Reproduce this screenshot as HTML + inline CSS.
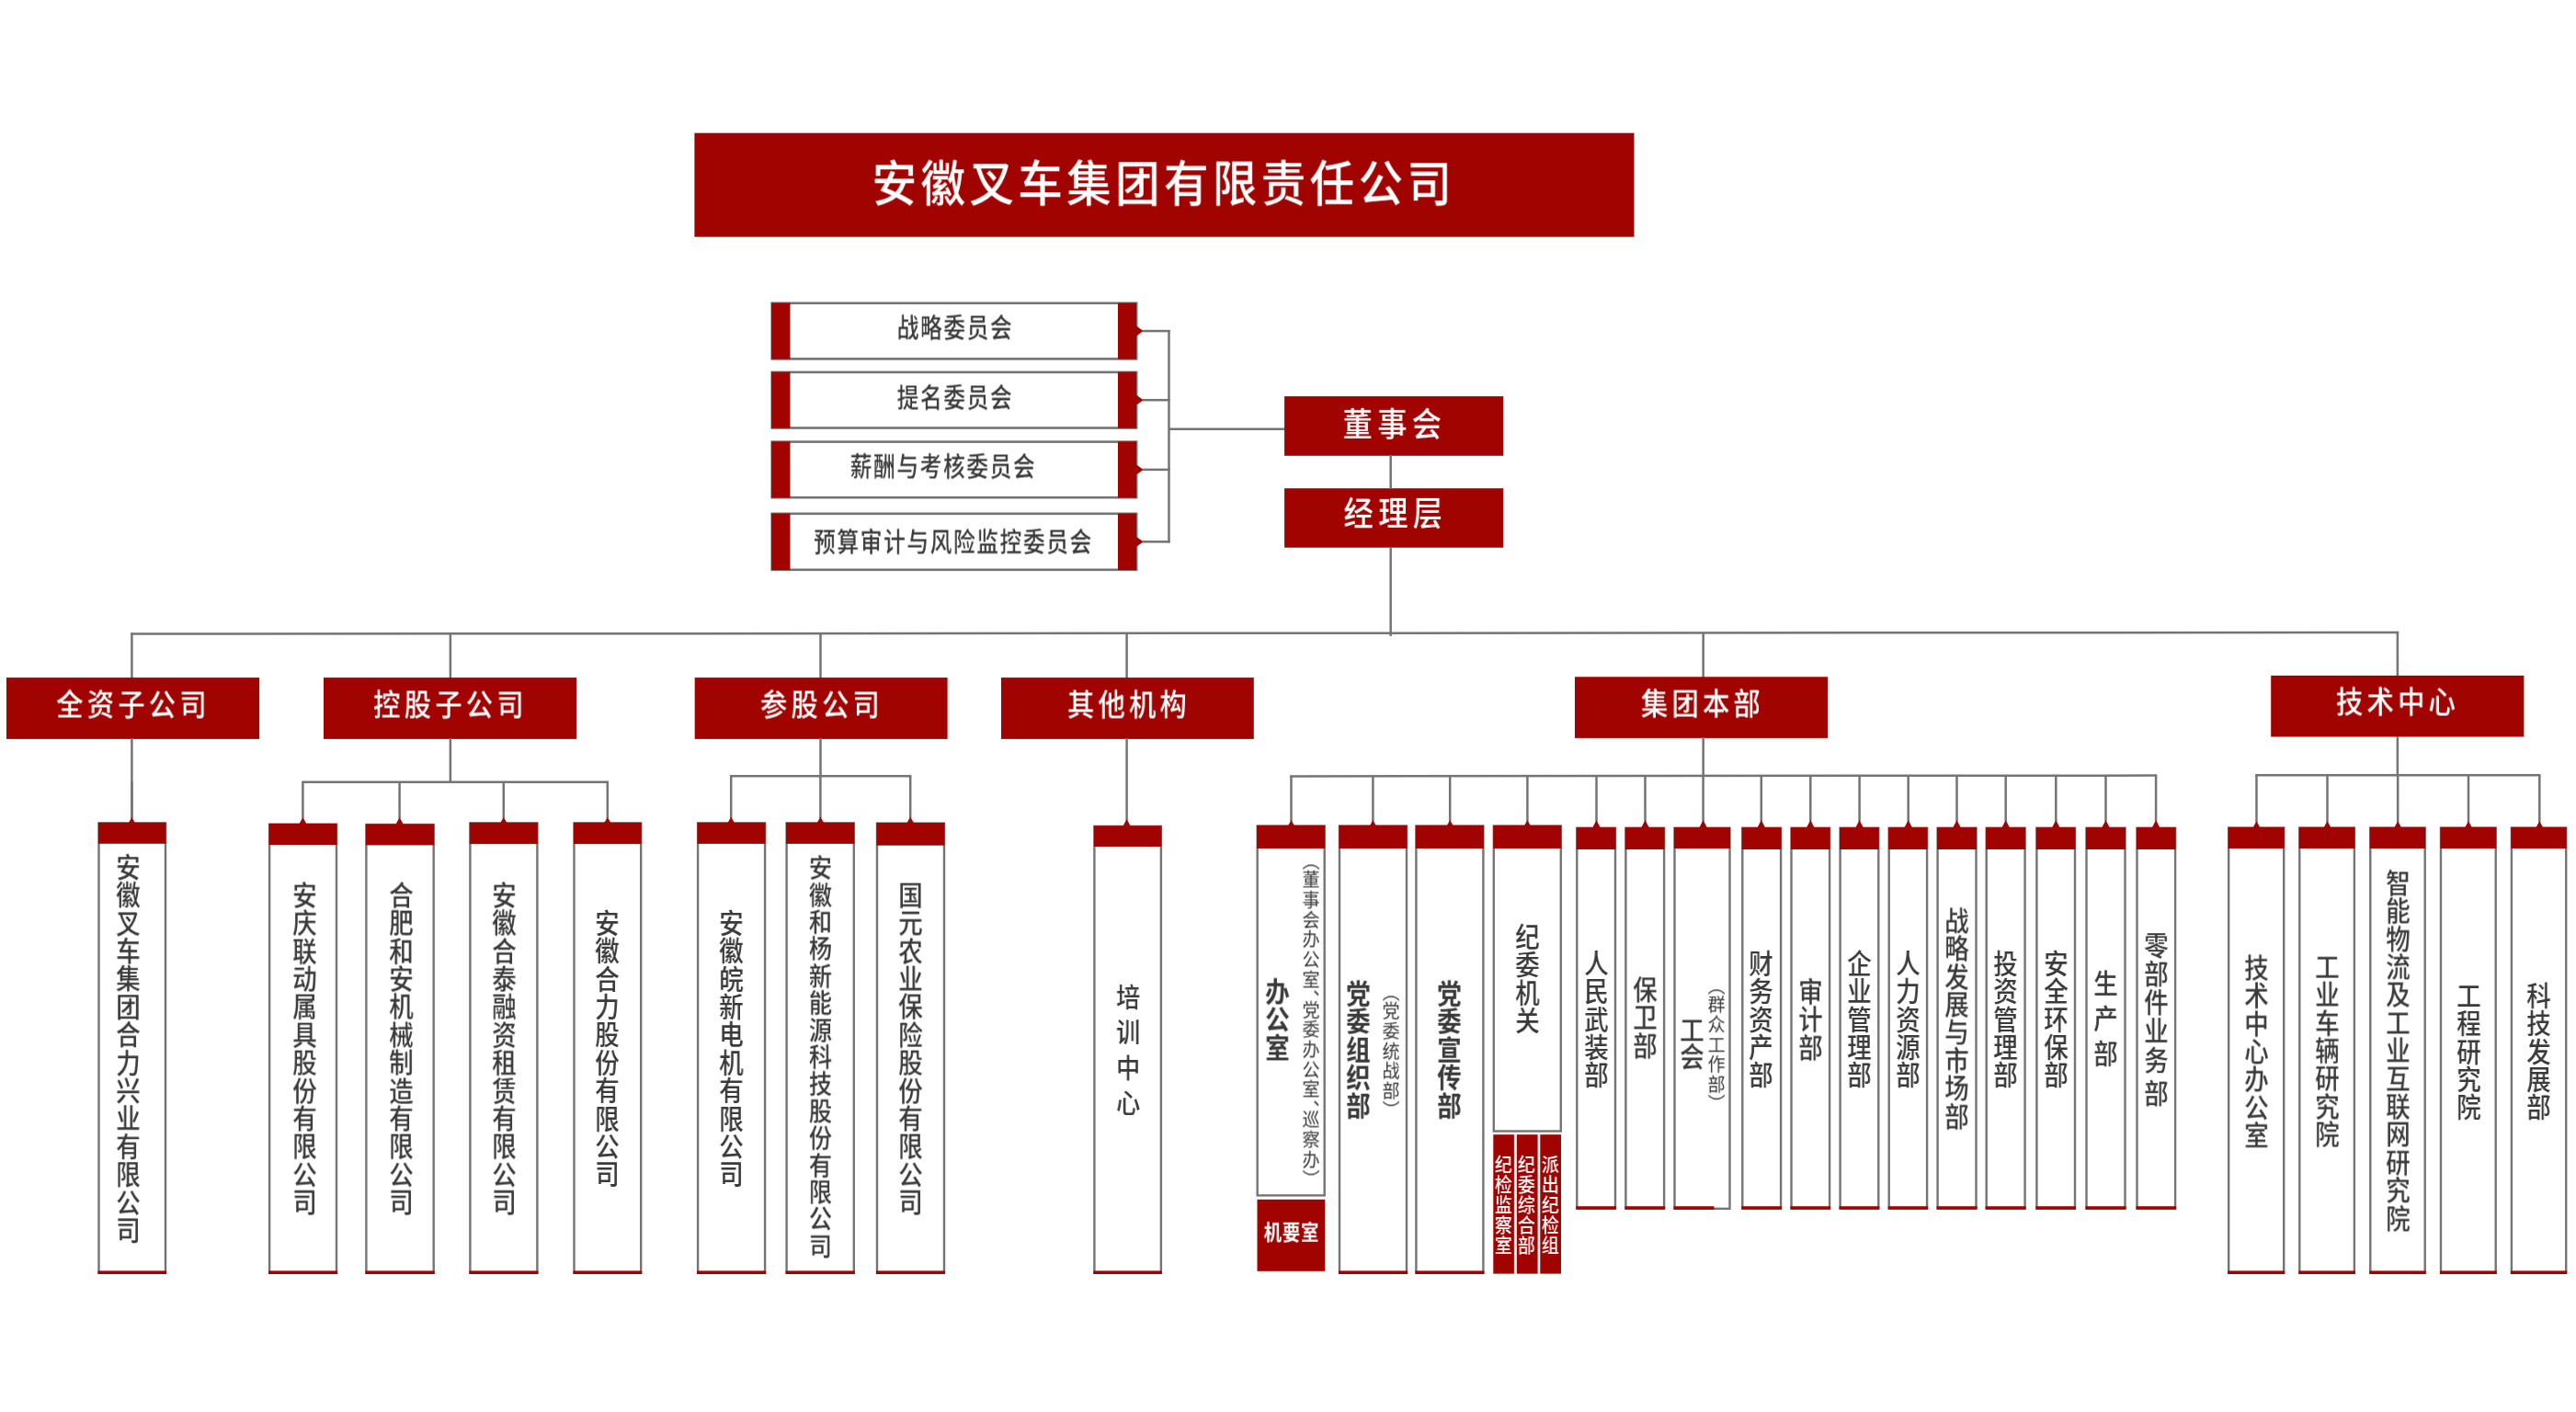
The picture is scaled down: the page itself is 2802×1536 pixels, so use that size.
<!DOCTYPE html>
<html lang="zh-CN">
<head>
<meta charset="utf-8">
<title>安徽叉车集团有限责任公司 组织架构</title>
<style>
html,body{margin:0;padding:0;background:#fff;}
body{width:2802px;height:1536px;position:relative;overflow:hidden;font-family:"Liberation Sans", "Noto Sans CJK SC", sans-serif;}
#g{position:absolute;left:0;top:0;width:2802px;height:1536px;}
.t{will-change:transform;position:absolute;white-space:nowrap;line-height:1;margin:0;padding:0;}
.v{writing-mode:vertical-rl;text-orientation:mixed;}
</style>
</head>
<body>
<svg id="g" width="2802" height="1536" viewBox="0 0 2802 1536">
<rect x="755.4" y="144.7" width="1022.1" height="113.0" fill="#a10300"/>
<rect x="839.7" y="329.8" width="396.5" height="60.6" fill="#fff" stroke="#747474" stroke-width="2.6"/>
<rect x="839.1" y="329.5" width="20.4" height="61.2" fill="#a10300"/>
<rect x="1216.0" y="329.5" width="20.0" height="61.2" fill="#a10300"/>
<polygon points="1235.8,354.5 1243.7,360.1 1235.8,365.7" fill="#a10300"/>
<line x1="1243.0" y1="360.1" x2="1272.6" y2="360.1" stroke="#747474" stroke-width="2.5"/>
<rect x="839.7" y="404.9" width="396.5" height="60.6" fill="#fff" stroke="#747474" stroke-width="2.6"/>
<rect x="839.1" y="404.6" width="20.4" height="61.2" fill="#a10300"/>
<rect x="1216.0" y="404.6" width="20.0" height="61.2" fill="#a10300"/>
<polygon points="1235.8,429.6 1243.7,435.2 1235.8,440.8" fill="#a10300"/>
<line x1="1243.0" y1="435.2" x2="1272.6" y2="435.2" stroke="#747474" stroke-width="2.5"/>
<rect x="839.7" y="480.6" width="396.5" height="60.6" fill="#fff" stroke="#747474" stroke-width="2.6"/>
<rect x="839.1" y="480.3" width="20.4" height="61.2" fill="#a10300"/>
<rect x="1216.0" y="480.3" width="20.0" height="61.2" fill="#a10300"/>
<polygon points="1235.8,505.3 1243.7,510.9 1235.8,516.5" fill="#a10300"/>
<line x1="1243.0" y1="510.9" x2="1272.6" y2="510.9" stroke="#747474" stroke-width="2.5"/>
<rect x="839.7" y="558.8" width="396.5" height="61.0" fill="#fff" stroke="#747474" stroke-width="2.6"/>
<rect x="839.1" y="558.5" width="20.4" height="61.6" fill="#a10300"/>
<rect x="1216.0" y="558.5" width="20.0" height="61.6" fill="#a10300"/>
<polygon points="1235.8,583.7 1243.7,589.3 1235.8,594.9" fill="#a10300"/>
<line x1="1243.0" y1="589.3" x2="1272.6" y2="589.3" stroke="#747474" stroke-width="2.5"/>
<line x1="1271.5" y1="359.0" x2="1271.5" y2="590.4" stroke="#747474" stroke-width="2.5"/>
<line x1="1271.5" y1="466.8" x2="1398.0" y2="466.8" stroke="#747474" stroke-width="2.5"/>
<rect x="1397.1" y="431.1" width="238.1" height="64.7" fill="#a10300"/>
<rect x="1397.1" y="531.2" width="238.1" height="64.5" fill="#a10300"/>
<line x1="1512.7" y1="495.0" x2="1512.7" y2="532.0" stroke="#747474" stroke-width="2.5"/>
<line x1="1512.7" y1="595.0" x2="1512.7" y2="692.0" stroke="#747474" stroke-width="2.5"/>
<line x1="142.3" y1="689.6" x2="2609.3" y2="688.0" stroke="#747474" stroke-width="2.5"/>
<line x1="143.4" y1="688.5" x2="143.4" y2="738.1" stroke="#747474" stroke-width="2.5"/>
<rect x="7.0" y="737.1" width="275.1" height="66.8" fill="#a10300"/>
<line x1="489.9" y1="688.5" x2="489.9" y2="738.1" stroke="#747474" stroke-width="2.5"/>
<rect x="352.0" y="737.1" width="275.1" height="66.8" fill="#a10300"/>
<line x1="892.5" y1="688.5" x2="892.5" y2="738.1" stroke="#747474" stroke-width="2.5"/>
<rect x="755.7" y="737.1" width="274.9" height="66.8" fill="#a10300"/>
<line x1="1225.6" y1="688.5" x2="1225.6" y2="738.1" stroke="#747474" stroke-width="2.5"/>
<rect x="1089.0" y="737.1" width="274.8" height="66.8" fill="#a10300"/>
<line x1="1852.7" y1="688.5" x2="1852.7" y2="737.3" stroke="#747474" stroke-width="2.5"/>
<rect x="1713.0" y="736.3" width="275.2" height="66.6" fill="#a10300"/>
<line x1="2607.9" y1="688.5" x2="2607.9" y2="735.9" stroke="#747474" stroke-width="2.5"/>
<rect x="2470.2" y="734.9" width="275.1" height="66.6" fill="#a10300"/>
<line x1="143.4" y1="803.0" x2="143.4" y2="890.0" stroke="#747474" stroke-width="2.5"/>
<line x1="143.4" y1="850.0" x2="143.4" y2="890.6" stroke="#747474" stroke-width="2.5"/>
<rect x="107.5" y="895.4" width="72.5" height="489.1" fill="#fff" stroke="#747474" stroke-width="2.4"/>
<rect x="106.9" y="894.8" width="73.6" height="23.0" fill="#a10300"/>
<polygon points="140.0,895.1 143.4,889.1 146.8,895.1" fill="#a10300"/>
<rect x="106.5" y="1382.4" width="74.5" height="3.6" fill="#a10300"/>
<line x1="489.9" y1="803.0" x2="489.9" y2="850.8" stroke="#747474" stroke-width="2.5"/>
<line x1="328.2" y1="850.8" x2="662.0" y2="850.8" stroke="#747474" stroke-width="2.5"/>
<line x1="329.4" y1="850.8" x2="329.4" y2="890.4" stroke="#747474" stroke-width="2.5"/>
<rect x="293.1" y="896.6" width="72.9" height="487.9" fill="#fff" stroke="#747474" stroke-width="2.4"/>
<rect x="292.5" y="896.0" width="74.0" height="23.1" fill="#a10300"/>
<polygon points="325.5,896.3 329.4,888.9 333.3,896.3" fill="#a10300"/>
<rect x="292.1" y="1382.4" width="74.9" height="3.6" fill="#a10300"/>
<line x1="434.6" y1="850.8" x2="434.6" y2="890.4" stroke="#747474" stroke-width="2.5"/>
<rect x="398.4" y="897.0" width="73.3" height="487.5" fill="#fff" stroke="#747474" stroke-width="2.4"/>
<rect x="397.8" y="896.4" width="74.4" height="23.0" fill="#a10300"/>
<polygon points="430.5,896.7 434.6,888.9 438.7,896.7" fill="#a10300"/>
<rect x="397.4" y="1382.4" width="75.3" height="3.6" fill="#a10300"/>
<line x1="547.8" y1="850.8" x2="547.8" y2="890.4" stroke="#747474" stroke-width="2.5"/>
<rect x="511.4" y="895.4" width="73.0" height="489.1" fill="#fff" stroke="#747474" stroke-width="2.4"/>
<rect x="510.8" y="894.8" width="74.1" height="23.3" fill="#a10300"/>
<polygon points="544.3,895.1 547.8,888.9 551.3,895.1" fill="#a10300"/>
<rect x="510.4" y="1382.4" width="75.0" height="3.6" fill="#a10300"/>
<line x1="660.8" y1="850.8" x2="660.8" y2="890.4" stroke="#747474" stroke-width="2.5"/>
<rect x="624.5" y="895.4" width="72.7" height="489.1" fill="#fff" stroke="#747474" stroke-width="2.4"/>
<rect x="623.9" y="894.8" width="73.8" height="23.3" fill="#a10300"/>
<polygon points="657.3,895.1 660.8,888.9 664.3,895.1" fill="#a10300"/>
<rect x="623.5" y="1382.4" width="74.7" height="3.6" fill="#a10300"/>
<line x1="892.5" y1="803.0" x2="892.5" y2="844.2" stroke="#747474" stroke-width="2.5"/>
<line x1="794.0" y1="844.2" x2="991.3" y2="844.2" stroke="#747474" stroke-width="2.5"/>
<line x1="795.2" y1="844.2" x2="795.2" y2="890.1" stroke="#747474" stroke-width="2.5"/>
<rect x="759.1" y="895.4" width="73.0" height="489.1" fill="#fff" stroke="#747474" stroke-width="2.4"/>
<rect x="758.5" y="894.8" width="74.1" height="23.1" fill="#a10300"/>
<polygon points="791.6,895.1 795.2,888.6 798.8,895.1" fill="#a10300"/>
<rect x="758.1" y="1382.4" width="75.0" height="3.6" fill="#a10300"/>
<line x1="892.4" y1="844.2" x2="892.4" y2="890.1" stroke="#747474" stroke-width="2.5"/>
<rect x="855.6" y="895.4" width="73.2" height="489.1" fill="#fff" stroke="#747474" stroke-width="2.4"/>
<rect x="855.0" y="894.8" width="74.3" height="23.1" fill="#a10300"/>
<polygon points="888.8,895.1 892.4,888.6 896.0,895.1" fill="#a10300"/>
<rect x="854.6" y="1382.4" width="75.2" height="3.6" fill="#a10300"/>
<line x1="990.2" y1="844.2" x2="990.2" y2="890.1" stroke="#747474" stroke-width="2.5"/>
<rect x="954.0" y="895.6" width="73.0" height="488.9" fill="#fff" stroke="#747474" stroke-width="2.4"/>
<rect x="953.4" y="895.0" width="74.1" height="24.7" fill="#a10300"/>
<polygon points="986.5,895.3 990.2,888.6 993.9,895.3" fill="#a10300"/>
<rect x="953.0" y="1382.4" width="75.0" height="3.6" fill="#a10300"/>
<line x1="1225.6" y1="803.0" x2="1225.6" y2="892.5" stroke="#747474" stroke-width="2.5"/>
<rect x="1190.4" y="898.9" width="72.5" height="485.6" fill="#fff" stroke="#747474" stroke-width="2.4"/>
<rect x="1189.8" y="898.3" width="73.6" height="22.7" fill="#a10300"/>
<polygon points="1221.6,898.6 1225.6,891.0 1229.6,898.6" fill="#a10300"/>
<rect x="1189.4" y="1382.4" width="74.5" height="3.6" fill="#a10300"/>
<line x1="1852.7" y1="802.0" x2="1852.7" y2="844.2" stroke="#747474" stroke-width="2.5"/>
<line x1="1403.0" y1="844.4" x2="2346.3" y2="843.6" stroke="#747474" stroke-width="2.5"/>
<line x1="1404.5" y1="844.2" x2="1404.5" y2="893.6" stroke="#747474" stroke-width="2.5"/>
<rect x="1367.7" y="898.5" width="73.0" height="401.9" fill="#fff" stroke="#747474" stroke-width="2.4"/>
<rect x="1367.1" y="897.9" width="74.1" height="25.1" fill="#a10300"/>
<polygon points="1401.1,898.2 1404.5,892.1 1407.9,898.2" fill="#a10300"/>
<line x1="1493.4" y1="844.2" x2="1493.4" y2="893.6" stroke="#747474" stroke-width="2.5"/>
<rect x="1457.0" y="898.5" width="73.0" height="486.0" fill="#fff" stroke="#747474" stroke-width="2.4"/>
<rect x="1456.4" y="897.9" width="74.1" height="25.1" fill="#a10300"/>
<polygon points="1490.0,898.2 1493.4,892.1 1496.8,898.2" fill="#a10300"/>
<rect x="1456.0" y="1382.4" width="75.0" height="3.6" fill="#a10300"/>
<line x1="1577.2" y1="844.2" x2="1577.2" y2="893.6" stroke="#747474" stroke-width="2.5"/>
<rect x="1540.4" y="898.5" width="73.0" height="486.0" fill="#fff" stroke="#747474" stroke-width="2.4"/>
<rect x="1539.8" y="897.9" width="74.1" height="25.1" fill="#a10300"/>
<polygon points="1573.8,898.2 1577.2,892.1 1580.6,898.2" fill="#a10300"/>
<rect x="1539.4" y="1382.4" width="75.0" height="3.6" fill="#a10300"/>
<line x1="1661.4" y1="844.2" x2="1661.4" y2="893.6" stroke="#747474" stroke-width="2.5"/>
<rect x="1624.8" y="898.5" width="73.0" height="332.0" fill="#fff" stroke="#747474" stroke-width="2.4"/>
<rect x="1624.2" y="897.9" width="74.1" height="25.1" fill="#a10300"/>
<polygon points="1658.0,898.2 1661.4,892.1 1664.8,898.2" fill="#a10300"/>
<line x1="1736.5" y1="844.0" x2="1736.5" y2="893.6" stroke="#747474" stroke-width="2.5"/>
<rect x="1715.3" y="900.7" width="41.7" height="413.6" fill="#fff" stroke="#747474" stroke-width="2.4"/>
<rect x="1714.7" y="900.1" width="42.8" height="23.9" fill="#a10300"/>
<polygon points="1732.2,900.4 1736.5,892.1 1740.8,900.4" fill="#a10300"/>
<rect x="1714.3" y="1312.2" width="43.7" height="3.6" fill="#a10300"/>
<line x1="1789.5" y1="844.0" x2="1789.5" y2="893.6" stroke="#747474" stroke-width="2.5"/>
<rect x="1768.4" y="900.7" width="41.7" height="413.6" fill="#fff" stroke="#747474" stroke-width="2.4"/>
<rect x="1767.8" y="900.1" width="42.8" height="23.9" fill="#a10300"/>
<polygon points="1785.2,900.4 1789.5,892.1 1793.8,900.4" fill="#a10300"/>
<rect x="1767.4" y="1312.2" width="43.7" height="3.6" fill="#a10300"/>
<line x1="1852.6" y1="844.0" x2="1852.6" y2="893.6" stroke="#747474" stroke-width="2.5"/>
<rect x="1821.5" y="900.7" width="60.0" height="414.1" fill="#fff" stroke="#747474" stroke-width="2.4"/>
<rect x="1820.9" y="900.1" width="61.1" height="22.9" fill="#a10300"/>
<polygon points="1848.3,900.4 1852.6,892.1 1856.9,900.4" fill="#a10300"/>
<rect x="1820.5" y="1312.2" width="43.9" height="3.6" fill="#a10300"/>
<line x1="1915.8" y1="844.0" x2="1915.8" y2="893.6" stroke="#747474" stroke-width="2.5"/>
<rect x="1895.3" y="900.7" width="41.8" height="413.6" fill="#fff" stroke="#747474" stroke-width="2.4"/>
<rect x="1894.7" y="900.1" width="42.9" height="23.9" fill="#a10300"/>
<polygon points="1911.5,900.4 1915.8,892.1 1920.1,900.4" fill="#a10300"/>
<rect x="1894.3" y="1312.2" width="43.8" height="3.6" fill="#a10300"/>
<line x1="1969.3" y1="844.0" x2="1969.3" y2="893.6" stroke="#747474" stroke-width="2.5"/>
<rect x="1948.5" y="900.7" width="41.6" height="413.6" fill="#fff" stroke="#747474" stroke-width="2.4"/>
<rect x="1947.9" y="900.1" width="42.7" height="23.9" fill="#a10300"/>
<polygon points="1965.0,900.4 1969.3,892.1 1973.6,900.4" fill="#a10300"/>
<rect x="1947.5" y="1312.2" width="43.6" height="3.6" fill="#a10300"/>
<line x1="2022.6" y1="844.0" x2="2022.6" y2="893.6" stroke="#747474" stroke-width="2.5"/>
<rect x="2001.6" y="900.7" width="41.7" height="413.6" fill="#fff" stroke="#747474" stroke-width="2.4"/>
<rect x="2001.0" y="900.1" width="42.8" height="23.9" fill="#a10300"/>
<polygon points="2018.3,900.4 2022.6,892.1 2026.9,900.4" fill="#a10300"/>
<rect x="2000.6" y="1312.2" width="43.7" height="3.6" fill="#a10300"/>
<line x1="2075.7" y1="844.0" x2="2075.7" y2="893.6" stroke="#747474" stroke-width="2.5"/>
<rect x="2054.7" y="900.7" width="41.4" height="413.6" fill="#fff" stroke="#747474" stroke-width="2.4"/>
<rect x="2054.1" y="900.1" width="42.5" height="23.9" fill="#a10300"/>
<polygon points="2071.4,900.4 2075.7,892.1 2080.0,900.4" fill="#a10300"/>
<rect x="2053.7" y="1312.2" width="43.4" height="3.6" fill="#a10300"/>
<line x1="2128.5" y1="844.0" x2="2128.5" y2="893.6" stroke="#747474" stroke-width="2.5"/>
<rect x="2107.6" y="900.7" width="41.9" height="413.6" fill="#fff" stroke="#747474" stroke-width="2.4"/>
<rect x="2107.0" y="900.1" width="43.0" height="23.9" fill="#a10300"/>
<polygon points="2124.2,900.4 2128.5,892.1 2132.8,900.4" fill="#a10300"/>
<rect x="2106.6" y="1312.2" width="43.9" height="3.6" fill="#a10300"/>
<line x1="2181.7" y1="844.0" x2="2181.7" y2="893.6" stroke="#747474" stroke-width="2.5"/>
<rect x="2160.7" y="900.7" width="41.9" height="413.6" fill="#fff" stroke="#747474" stroke-width="2.4"/>
<rect x="2160.1" y="900.1" width="43.0" height="23.9" fill="#a10300"/>
<polygon points="2177.4,900.4 2181.7,892.1 2186.0,900.4" fill="#a10300"/>
<rect x="2159.7" y="1312.2" width="43.9" height="3.6" fill="#a10300"/>
<line x1="2236.3" y1="844.0" x2="2236.3" y2="893.6" stroke="#747474" stroke-width="2.5"/>
<rect x="2215.4" y="900.7" width="41.6" height="413.6" fill="#fff" stroke="#747474" stroke-width="2.4"/>
<rect x="2214.8" y="900.1" width="42.7" height="23.9" fill="#a10300"/>
<polygon points="2232.0,900.4 2236.3,892.1 2240.6,900.4" fill="#a10300"/>
<rect x="2214.4" y="1312.2" width="43.6" height="3.6" fill="#a10300"/>
<line x1="2290.5" y1="844.0" x2="2290.5" y2="893.6" stroke="#747474" stroke-width="2.5"/>
<rect x="2269.5" y="900.7" width="42.0" height="413.6" fill="#fff" stroke="#747474" stroke-width="2.4"/>
<rect x="2268.9" y="900.1" width="43.1" height="23.9" fill="#a10300"/>
<polygon points="2286.2,900.4 2290.5,892.1 2294.8,900.4" fill="#a10300"/>
<rect x="2268.5" y="1312.2" width="44.0" height="3.6" fill="#a10300"/>
<line x1="2345.1" y1="844.0" x2="2345.1" y2="893.6" stroke="#747474" stroke-width="2.5"/>
<rect x="2324.5" y="900.7" width="41.6" height="413.6" fill="#fff" stroke="#747474" stroke-width="2.4"/>
<rect x="2323.9" y="900.1" width="42.7" height="23.9" fill="#a10300"/>
<polygon points="2340.8,900.4 2345.1,892.1 2349.4,900.4" fill="#a10300"/>
<rect x="2323.5" y="1312.2" width="43.6" height="3.6" fill="#a10300"/>
<rect x="1367.5" y="1304.8" width="73.8" height="78.0" fill="#a10300"/>
<rect x="1624.3" y="1234.2" width="22.6" height="151.4" fill="#a10300"/>
<rect x="1649.8" y="1234.2" width="22.8" height="151.4" fill="#a10300"/>
<rect x="1675.3" y="1234.2" width="22.7" height="151.4" fill="#a10300"/>
<line x1="2607.9" y1="801.0" x2="2607.9" y2="843.3" stroke="#747474" stroke-width="2.5"/>
<line x1="2453.2" y1="843.3" x2="2763.4" y2="843.3" stroke="#747474" stroke-width="2.5"/>
<line x1="2454.5" y1="843.3" x2="2454.5" y2="894.6" stroke="#747474" stroke-width="2.5"/>
<rect x="2424.2" y="900.5" width="60.0" height="484.0" fill="#fff" stroke="#747474" stroke-width="2.4"/>
<rect x="2423.6" y="899.9" width="61.1" height="23.1" fill="#a10300"/>
<polygon points="2450.7,900.2 2454.5,893.1 2458.3,900.2" fill="#a10300"/>
<rect x="2423.2" y="1382.4" width="62.0" height="3.6" fill="#a10300"/>
<line x1="2531.5" y1="843.3" x2="2531.5" y2="894.6" stroke="#747474" stroke-width="2.5"/>
<rect x="2501.3" y="900.5" width="59.6" height="484.0" fill="#fff" stroke="#747474" stroke-width="2.4"/>
<rect x="2500.7" y="899.9" width="60.7" height="23.1" fill="#a10300"/>
<polygon points="2527.7,900.2 2531.5,893.1 2535.3,900.2" fill="#a10300"/>
<rect x="2500.3" y="1382.4" width="61.6" height="3.6" fill="#a10300"/>
<line x1="2608.2" y1="843.3" x2="2608.2" y2="894.6" stroke="#747474" stroke-width="2.5"/>
<rect x="2578.3" y="900.5" width="59.4" height="484.0" fill="#fff" stroke="#747474" stroke-width="2.4"/>
<rect x="2577.7" y="899.9" width="60.5" height="23.1" fill="#a10300"/>
<polygon points="2604.4,900.2 2608.2,893.1 2612.0,900.2" fill="#a10300"/>
<rect x="2577.3" y="1382.4" width="61.4" height="3.6" fill="#a10300"/>
<line x1="2685.0" y1="843.3" x2="2685.0" y2="894.6" stroke="#747474" stroke-width="2.5"/>
<rect x="2655.0" y="900.5" width="59.7" height="484.0" fill="#fff" stroke="#747474" stroke-width="2.4"/>
<rect x="2654.4" y="899.9" width="60.8" height="23.1" fill="#a10300"/>
<polygon points="2681.2,900.2 2685.0,893.1 2688.8,900.2" fill="#a10300"/>
<rect x="2654.0" y="1382.4" width="61.7" height="3.6" fill="#a10300"/>
<line x1="2762.3" y1="843.3" x2="2762.3" y2="894.6" stroke="#747474" stroke-width="2.5"/>
<rect x="2731.9" y="900.5" width="59.3" height="484.0" fill="#fff" stroke="#747474" stroke-width="2.4"/>
<rect x="2731.3" y="899.9" width="60.4" height="23.1" fill="#a10300"/>
<polygon points="2758.5,900.2 2762.3,893.1 2766.1,900.2" fill="#a10300"/>
<rect x="2730.9" y="1382.4" width="61.3" height="3.6" fill="#a10300"/>
</svg>
<div class="t" style="left:1265.7px;top:201.1px;font-size:53.4px;letter-spacing:4.86px;color:#fff;font-weight:500;transform:translate(-50%,-50%) scale(0.908,1)">安徽叉车集团有限责任公司</div>
<div class="t" style="left:1038.5px;top:357.9px;font-size:29.0px;letter-spacing:2.0px;color:#3a3a3a;font-weight:500;transform:translate(-50%,-50%) scale(0.8165,1)">战略委员会</div>
<div class="t" style="left:1038.5px;top:434.0px;font-size:29.0px;letter-spacing:2.0px;color:#3a3a3a;font-weight:500;transform:translate(-50%,-50%) scale(0.8165,1)">提名委员会</div>
<div class="t" style="left:1026.1px;top:509.2px;font-size:29.0px;letter-spacing:2.0px;color:#3a3a3a;font-weight:500;transform:translate(-50%,-50%) scale(0.8165,1)">薪酬与考核委员会</div>
<div class="t" style="left:1037.0px;top:591.3px;font-size:29.0px;letter-spacing:2.0px;color:#3a3a3a;font-weight:500;transform:translate(-50%,-50%) scale(0.8165,1)">预算审计与风险监控委员会</div>
<div class="t" style="left:1517.2px;top:462.7px;font-size:36.3px;letter-spacing:6.1px;color:#fff;font-weight:500;transform:translate(-50%,-50%) scale(0.887,1)">董事会</div>
<div class="t" style="left:1517.7px;top:560.1px;font-size:36.3px;letter-spacing:6.1px;color:#fff;font-weight:500;transform:translate(-50%,-50%) scale(0.887,1)">经理层</div>
<div class="t" style="left:145.1px;top:767.1px;font-size:33px;letter-spacing:4.7px;color:#fff;font-weight:500;transform:translate(-50%,-50%) scale(0.89,1)">全资子公司</div>
<div class="t" style="left:489.5px;top:767.0px;font-size:33px;letter-spacing:4.7px;color:#fff;font-weight:500;transform:translate(-50%,-50%) scale(0.89,1)">控股子公司</div>
<div class="t" style="left:893.6px;top:766.9px;font-size:33px;letter-spacing:4.7px;color:#fff;font-weight:500;transform:translate(-50%,-50%) scale(0.89,1)">参股公司</div>
<div class="t" style="left:1227.5px;top:766.9px;font-size:33px;letter-spacing:4.7px;color:#fff;font-weight:500;transform:translate(-50%,-50%) scale(0.89,1)">其他机构</div>
<div class="t" style="left:1852.0px;top:766.1px;font-size:33px;letter-spacing:4.7px;color:#fff;font-weight:500;transform:translate(-50%,-50%) scale(0.89,1)">集团本部</div>
<div class="t" style="left:2608.1px;top:763.7px;font-size:33px;letter-spacing:4.7px;color:#fff;font-weight:500;transform:translate(-50%,-50%) scale(0.89,1)">技术中心</div>
<div class="t v" style="left:137.2px;top:1140.8px;font-size:29.4px;letter-spacing:1.0px;color:#3a3a3a;font-weight:500;transform:translate(-50%,-50%) scale(0.9,1.0)">安徽叉车集团合力兴业有限公司</div>
<div class="t v" style="left:328.8px;top:1141.3px;font-size:29.4px;letter-spacing:1.0px;color:#3a3a3a;font-weight:500;transform:translate(-50%,-50%) scale(0.9,1.0)">安庆联动属具股份有限公司</div>
<div class="t v" style="left:433.8px;top:1141.3px;font-size:29.4px;letter-spacing:1.0px;color:#3a3a3a;font-weight:500;transform:translate(-50%,-50%) scale(0.9,1.0)">合肥和安机械制造有限公司</div>
<div class="t v" style="left:546.3px;top:1141.3px;font-size:29.4px;letter-spacing:1.0px;color:#3a3a3a;font-weight:500;transform:translate(-50%,-50%) scale(0.9,1.0)">安徽合泰融资租赁有限公司</div>
<div class="t v" style="left:658.3px;top:1141.0px;font-size:29.4px;letter-spacing:1.0px;color:#3a3a3a;font-weight:500;transform:translate(-50%,-50%) scale(0.9,1.0)">安徽合力股份有限公司</div>
<div class="t v" style="left:793.1px;top:1141.1px;font-size:29.4px;letter-spacing:1.0px;color:#3a3a3a;font-weight:500;transform:translate(-50%,-50%) scale(0.9,1.0)">安徽皖新电机有限公司</div>
<div class="t v" style="left:988.1px;top:1140.8px;font-size:29.4px;letter-spacing:1.0px;color:#3a3a3a;font-weight:500;transform:translate(-50%,-50%) scale(0.9,1.0)">国元农业保险股份有限公司</div>
<div class="t v" style="left:1734.3px;top:1108.5px;font-size:29.4px;letter-spacing:1.0px;color:#3a3a3a;font-weight:500;transform:translate(-50%,-50%) scale(0.9,1.0)">人民武装部</div>
<div class="t v" style="left:1787.3px;top:1107.3px;font-size:29.4px;letter-spacing:1.0px;color:#3a3a3a;font-weight:500;transform:translate(-50%,-50%) scale(0.9,1.0)">保卫部</div>
<div class="t v" style="left:1913.2px;top:1109.0px;font-size:29.4px;letter-spacing:1.0px;color:#3a3a3a;font-weight:500;transform:translate(-50%,-50%) scale(0.9,1.0)">财务资产部</div>
<div class="t v" style="left:1967.1px;top:1109.0px;font-size:29.4px;letter-spacing:1.0px;color:#3a3a3a;font-weight:500;transform:translate(-50%,-50%) scale(0.9,1.0)">审计部</div>
<div class="t v" style="left:2020.2px;top:1109.0px;font-size:29.4px;letter-spacing:1.0px;color:#3a3a3a;font-weight:500;transform:translate(-50%,-50%) scale(0.9,1.0)">企业管理部</div>
<div class="t v" style="left:2073.2px;top:1109.0px;font-size:29.4px;letter-spacing:1.0px;color:#3a3a3a;font-weight:500;transform:translate(-50%,-50%) scale(0.9,1.0)">人力资源部</div>
<div class="t v" style="left:2126.3px;top:1108.3px;font-size:29.4px;letter-spacing:1.0px;color:#3a3a3a;font-weight:500;transform:translate(-50%,-50%) scale(0.9,1.0)">战略发展与市场部</div>
<div class="t v" style="left:2179.3px;top:1109.0px;font-size:29.4px;letter-spacing:1.0px;color:#3a3a3a;font-weight:500;transform:translate(-50%,-50%) scale(0.9,1.0)">投资管理部</div>
<div class="t v" style="left:2234.0px;top:1109.0px;font-size:29.4px;letter-spacing:1.0px;color:#3a3a3a;font-weight:500;transform:translate(-50%,-50%) scale(0.9,1.0)">安全环保部</div>
<div class="t v" style="left:2452.3px;top:1144.0px;font-size:29.4px;letter-spacing:1.0px;color:#3a3a3a;font-weight:500;transform:translate(-50%,-50%) scale(0.9,1.0)">技术中心办公室</div>
<div class="t v" style="left:2529.3px;top:1143.0px;font-size:29.4px;letter-spacing:1.0px;color:#3a3a3a;font-weight:500;transform:translate(-50%,-50%) scale(0.9,1.0)">工业车辆研究院</div>
<div class="t v" style="left:2605.8px;top:1143.0px;font-size:29.4px;letter-spacing:1.0px;color:#3a3a3a;font-weight:500;transform:translate(-50%,-50%) scale(0.9,1.0)">智能物流及工业互联网研究院</div>
<div class="t v" style="left:2682.8px;top:1143.7px;font-size:29.4px;letter-spacing:1.0px;color:#3a3a3a;font-weight:500;transform:translate(-50%,-50%) scale(0.9,1.0)">工程研究院</div>
<div class="t v" style="left:2759.3px;top:1144.0px;font-size:29.4px;letter-spacing:1.0px;color:#3a3a3a;font-weight:500;transform:translate(-50%,-50%) scale(0.9,1.0)">科技发展部</div>
<div class="t v" style="left:889.9px;top:1149.8px;font-size:28.6px;letter-spacing:0.8px;color:#3a3a3a;font-weight:500;transform:translate(-50%,-50%) scale(0.88,1.0)">安徽和杨新能源科技股份有限公司</div>
<div class="t v" style="left:1223.8px;top:1147.3px;font-size:29px;letter-spacing:9.5px;color:#3a3a3a;font-weight:500;transform:translate(-50%,-50%) scale(0.9,1.0)">培训中心</div>
<div class="t v" style="left:2288.3px;top:1111.6px;font-size:29.4px;letter-spacing:8.7px;color:#3a3a3a;font-weight:500;transform:translate(-50%,-50%) scale(0.9,1.0)">生产部</div>
<div class="t v" style="left:2343.1px;top:1109.1px;font-size:29.4px;letter-spacing:1.8px;color:#3a3a3a;font-weight:500;transform:translate(-50%,-50%) scale(0.9,1.0)">零部件业务<span style="margin-top:4.5px">部</span></div>
<div class="t v" style="left:1658.8px;top:1064.8px;font-size:29.4px;letter-spacing:1.1px;color:#3a3a3a;font-weight:500;transform:translate(-50%,-50%) scale(0.9,1.0)">纪委机关</div>
<div class="t v" style="left:1387.4px;top:1109.2px;font-size:29.4px;letter-spacing:1.0px;color:#3a3a3a;font-weight:700;transform:translate(-50%,-50%) scale(0.9,1.0)">办公室</div>
<div class="t v" style="left:1475.3px;top:1142.0px;font-size:29.4px;letter-spacing:1.1px;color:#3a3a3a;font-weight:700;transform:translate(-50%,-50%) scale(0.9,1.0)">党委组织部</div>
<div class="t v" style="left:1574.0px;top:1142.0px;font-size:29.4px;letter-spacing:1.1px;color:#3a3a3a;font-weight:700;transform:translate(-50%,-50%) scale(0.9,1.0)">党委宣传部</div>
<div class="t v" style="left:1837.8px;top:1134.2px;font-size:29.4px;letter-spacing:-0.7px;color:#3a3a3a;font-weight:500;transform:translate(-50%,-50%) scale(0.9,1.0)">工会</div>
<div class="t v" style="left:1423.5px;top:1109.8px;font-size:20.5px;letter-spacing:1.15px;color:#3a3a3a;font-weight:400;transform:translate(-50%,-50%) scale(0.927,1.0)"><span style="margin-top:-0.5em;margin-bottom:-1px">（</span>董事会办公室<span style="margin-bottom:-0.5em">、</span>党委办公室<span style="margin-bottom:-0.5em">、</span>巡察办<span style="margin-bottom:-0.5em;margin-top:-0.6px">）</span></div>
<div class="t v" style="left:1510.7px;top:1143.7px;font-size:20.5px;letter-spacing:1.15px;color:#3a3a3a;font-weight:400;transform:translate(-50%,-50%) scale(0.927,1.0)"><span style="margin-top:-0.5em;margin-bottom:-1px">（</span>党委统战部<span style="margin-bottom:-0.5em;margin-top:-0.6px">）</span></div>
<div class="t v" style="left:1865.4px;top:1137.3px;font-size:20.5px;letter-spacing:1.15px;color:#3a3a3a;font-weight:400;transform:translate(-50%,-50%) scale(0.927,1.0)"><span style="margin-top:-0.5em;margin-bottom:-1px">（</span>群众工作部<span style="margin-bottom:-0.5em;margin-top:-0.6px">）</span></div>
<div class="t" style="left:1404.7px;top:1341.7px;font-size:22.5px;letter-spacing:1.0px;color:#fff;font-weight:700;transform:translate(-50%,-50%) scale(0.86,1)">机要室</div>
<div class="t v" style="left:1633.8px;top:1310.8px;font-size:21px;letter-spacing:1.0px;color:#fff;font-weight:500;transform:translate(-50%,-50%) scale(0.9,1)">纪检监察室</div>
<div class="t v" style="left:1659.4px;top:1310.8px;font-size:21px;letter-spacing:1.0px;color:#fff;font-weight:500;transform:translate(-50%,-50%) scale(0.9,1)">纪委综合部</div>
<div class="t v" style="left:1685.0px;top:1310.8px;font-size:21px;letter-spacing:1.0px;color:#fff;font-weight:500;transform:translate(-50%,-50%) scale(0.9,1)">派出纪检组</div>
</body>
</html>
